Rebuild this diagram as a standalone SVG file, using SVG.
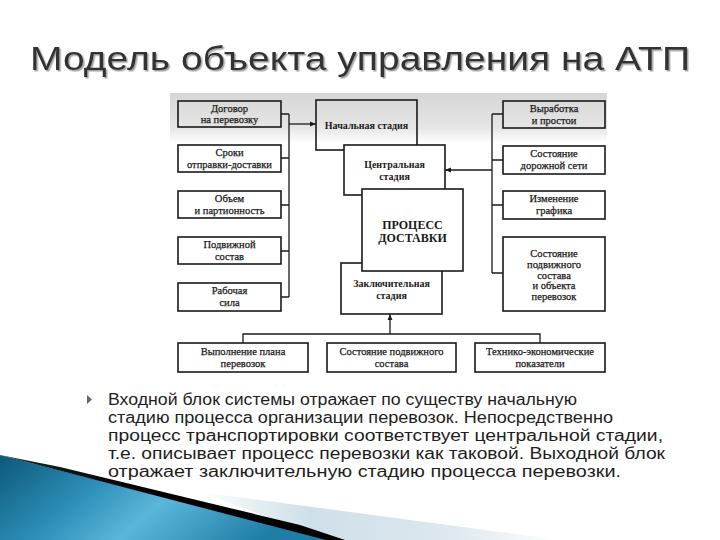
<svg xmlns="http://www.w3.org/2000/svg" width="720" height="540" viewBox="0 0 720 540">
<defs>
<style>
.box{fill:none;stroke:#1a1a1a;stroke-width:1.6}
.wbox{fill:#ffffff;stroke:#1a1a1a;stroke-width:1.6}
.t{font-family:'Liberation Serif','DejaVu Serif',serif;font-size:10.5px;fill:#1a1a1a;stroke:#1a1a1a;stroke-width:0.25;text-anchor:middle}
.tb{font-family:'Liberation Serif','DejaVu Serif',serif;font-size:10px;font-weight:bold;fill:#1a1a1a;text-anchor:middle}
.tbig{font-family:'Liberation Serif','DejaVu Serif',serif;font-size:12px;font-weight:bold;fill:#1a1a1a;text-anchor:middle}
.ln{fill:none;stroke:#1a1a1a;stroke-width:1.3}
.body{font-family:'Liberation Sans',Arial,sans-serif;font-size:16px;fill:#1e1e1e}
.title{font-family:'Liberation Sans',Arial,sans-serif;font-size:34px}
</style>
<filter id="sh" x="-5%" y="-20%" width="110%" height="150%">
<feDropShadow dx="1.5" dy="1.5" stdDeviation="0.6" flood-color="#9a9a9a" flood-opacity="0.9"/>
</filter>
<marker id="ah" viewBox="0 0 10 10" refX="10" refY="5" markerWidth="6" markerHeight="6" orient="auto" markerUnits="userSpaceOnUse">
<path d="M0,1 L10,5 L0,9 Z" fill="#1a1a1a"/>
</marker>
<linearGradient id="band" x1="0" y1="0" x2="0" y2="1">
<stop offset="0" stop-color="#d6d6d6"/>
<stop offset="0.7" stop-color="#e6e6e6"/>
<stop offset="1" stop-color="#ffffff"/>
</linearGradient>
<linearGradient id="blue" x1="0" y1="0" x2="1" y2="0.3">
<stop offset="0" stop-color="#0c5878"/>
<stop offset="0.35" stop-color="#2c8db7"/>
<stop offset="0.6" stop-color="#5ab6db"/>
<stop offset="1" stop-color="#1f7ea6"/>
</linearGradient>
<linearGradient id="pale" x1="0" y1="0" x2="1" y2="0">
<stop offset="0" stop-color="#ffffff"/>
<stop offset="0.3" stop-color="#cfdfe9"/>
<stop offset="0.7" stop-color="#dde8ef"/>
<stop offset="1" stop-color="#ffffff"/>
</linearGradient>
<linearGradient id="blk" x1="0" y1="0" x2="1" y2="0">
<stop offset="0" stop-color="#1a2a33"/>
<stop offset="0.4" stop-color="#000000"/>
<stop offset="1" stop-color="#000000"/>
</linearGradient>
</defs>

<rect width="720" height="540" fill="#ffffff"/>

<!-- title -->
<g id="title" filter="url(#sh)">
<text class="title" x="30" y="70" fill="#333333" textLength="660" lengthAdjust="spacingAndGlyphs">Модель объекта управления на АТП</text>
</g>

<!-- scanned background band -->
<rect x="170" y="93" width="437" height="50" fill="url(#band)"/>

<!-- connectors -->
<g id="connectors">
<path class="ln" d="M281,114 H289 M281,158 H289 M281,205 H289 M281,251 H289 M281,297 H289 M289,114 V297"/>
<line class="ln" x1="289" y1="124" x2="316" y2="124" marker-end="url(#ah)"/>
<path class="ln" d="M503,114 H492 M503,160 H492 M503,205 H492 M503,273 H492 M492,114 V273"/>
<line class="ln" x1="492" y1="170" x2="445" y2="170" marker-end="url(#ah)"/>
<path class="ln" d="M243,343 V334 H540 V343"/>
<line class="ln" x1="390" y1="334" x2="390" y2="314" marker-end="url(#ah)"/>
</g>

<!-- left nodes -->
<g id="n-dogovor"><rect class="box" x="178" y="101" width="103" height="26"/>
<text class="t" x="229.5" y="111.5">Договор</text><text class="t" x="229.5" y="123">на перевозку</text></g>
<g id="n-sroki"><rect class="box" x="178" y="145" width="103" height="27"/>
<text class="t" x="229.5" y="155.5">Сроки</text><text class="t" x="229.5" y="167.5">отправки-доставки</text></g>
<g id="n-obem"><rect class="box" x="178" y="191" width="103" height="27"/>
<text class="t" x="229.5" y="201.5">Объем</text><text class="t" x="229.5" y="213.5">и партионность</text></g>
<g id="n-podvizhnoy"><rect class="box" x="178" y="237" width="103" height="27"/>
<text class="t" x="229.5" y="247.5">Подвижной</text><text class="t" x="229.5" y="259.5">состав</text></g>
<g id="n-rabochaya"><rect class="box" x="178" y="283" width="103" height="28"/>
<text class="t" x="229.5" y="294">Рабочая</text><text class="t" x="229.5" y="306">сила</text></g>

<!-- right nodes -->
<g id="n-vyrabotka"><rect class="box" x="503" y="101" width="102" height="27"/>
<text class="t" x="554" y="111.5">Выработка</text><text class="t" x="554" y="123.5">и простои</text></g>
<g id="n-doroga"><rect class="box" x="503" y="146" width="102" height="28"/>
<text class="t" x="554" y="157">Состояние</text><text class="t" x="554" y="169">дорожной сети</text></g>
<g id="n-grafik"><rect class="box" x="503" y="191" width="102" height="28"/>
<text class="t" x="554" y="202">Изменение</text><text class="t" x="554" y="214">графика</text></g>
<g id="n-sostoyanie"><rect class="box" x="503" y="237" width="102" height="74"/>
<text class="t" x="554" y="257">Состояние</text><text class="t" x="554" y="267.8">подвижного</text><text class="t" x="554" y="278.6">состава</text><text class="t" x="554" y="289.4">и объекта</text><text class="t" x="554" y="300.2">перевозок</text></g>

<!-- center stack -->
<g id="n-nachalnaya"><rect class="box" x="316" y="100" width="101" height="50"/>
<text class="tb" x="366.5" y="129">Начальная стадия</text></g>
<g id="n-zakl"><rect class="wbox" x="341" y="263" width="101" height="51"/>
<text class="tb" x="391.5" y="287">Заключительная</text><text class="tb" x="391.5" y="299">стадия</text></g>
<g id="n-centr"><rect class="wbox" x="344" y="145" width="101" height="50"/>
<text class="tb" x="394.5" y="167.5">Центральная</text><text class="tb" x="394.5" y="179.5">стадия</text></g>
<g id="n-process"><rect class="wbox" x="362" y="189" width="101" height="82"/>
<text class="tbig" x="412.5" y="229">ПРОЦЕСС</text><text class="tbig" x="412.5" y="242">ДОСТАВКИ</text></g>

<!-- bottom nodes -->
<g id="n-plan"><rect class="box" x="178" y="343" width="130" height="29"/>
<text class="t" x="243" y="354.5">Выполнение плана</text><text class="t" x="243" y="366.5">перевозок</text></g>
<g id="n-sost2"><rect class="box" x="327" y="343" width="129" height="29"/>
<text class="t" x="391.5" y="354.5">Состояние подвижного</text><text class="t" x="391.5" y="366.5">состава</text></g>
<g id="n-tep"><rect class="box" x="475" y="343" width="130" height="29"/>
<text class="t" x="540" y="354.5">Технико-экономические</text><text class="t" x="540" y="366.5">показатели</text></g>

<!-- decoration bottom-left -->
<g id="decor">
<path d="M200,492 L560,540 L330,540 Z" fill="url(#pale)"/>
<path d="M0,455 L330,540 L0,540 Z" fill="url(#blue)"/>
<path d="M0,455 L60,467 L300,525 L345,540 L326,540 Z" fill="url(#blk)"/>
</g>

<!-- body text -->
<g id="body">
<path d="M87,395 L92,399.5 L87,404 Z" fill="#666666"/>
<text class="body" x="108" y="405" textLength="469" lengthAdjust="spacingAndGlyphs">Входной блок системы отражает по существу начальную</text>
<text class="body" x="108" y="423" textLength="505" lengthAdjust="spacingAndGlyphs">стадию процесса организации перевозок. Непосредственно</text>
<text class="body" x="108" y="441" textLength="555" lengthAdjust="spacingAndGlyphs">процесс транспортировки соответствует центральной стадии,</text>
<text class="body" x="108" y="459" textLength="557" lengthAdjust="spacingAndGlyphs">т.е. описывает процесс перевозки как таковой. Выходной блок</text>
<text class="body" x="108" y="477" textLength="513" lengthAdjust="spacingAndGlyphs">отражает заключительную стадию процесса перевозки.</text>
</g>
</svg>
